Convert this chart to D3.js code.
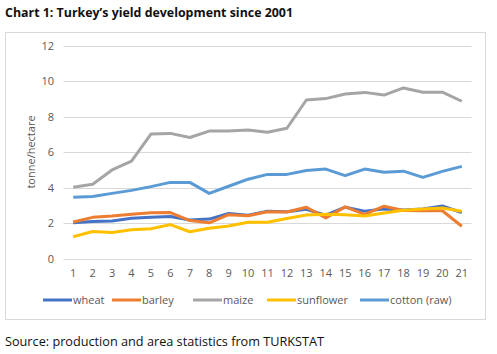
<!DOCTYPE html>
<html>
<head>
<meta charset="utf-8">
<script src="https://cdn.jsdelivr.net/npm/d3@7"></script>
<style>
  body { margin: 0; background: #fff; }
  svg { display: block; }
</style>
</head>
<body>
<div id="chart"></div>
<script>
// data
var years = d3.range(1, 22);
var wheat     = [2.03, 2.1, 2.12, 2.28, 2.33, 2.38, 2.18, 2.23, 2.55, 2.45, 2.68, 2.65, 2.78, 2.45, 2.9, 2.68, 2.8, 2.75, 2.8, 2.97, 2.6];
var barley    = [2.07, 2.33, 2.4, 2.5, 2.59, 2.6, 2.15, 2.02, 2.48, 2.42, 2.65, 2.63, 2.9, 2.3, 2.92, 2.5, 2.96, 2.72, 2.7, 2.7, 1.83];
var maize     = [4.02, 4.19, 5.0, 5.5, 7.02, 7.06, 6.83, 7.19, 7.19, 7.25, 7.12, 7.35, 8.94, 9.02, 9.28, 9.37, 9.22, 9.62, 9.38, 9.38, 8.87];
var sunflower = [1.24, 1.53, 1.48, 1.63, 1.69, 1.92, 1.52, 1.72, 1.84, 2.05, 2.05, 2.27, 2.46, 2.5, 2.47, 2.4, 2.58, 2.73, 2.8, 2.86, 2.67];
var cotton    = [3.46, 3.51, 3.68, 3.85, 4.06, 4.3, 4.3, 3.68, 4.08, 4.48, 4.75, 4.75, 4.97, 5.05, 4.68, 5.05, 4.87, 4.93, 4.58, 4.92, 5.2];
var yTicks = [0, 2, 4, 6, 8, 10, 12];

var series = [
    {name: "wheat", values: wheat, color: "#4472C4"},
    {name: "barley", values: barley, color: "#ED7D31"},
    {name: "maize", values: maize, color: "#A5A5A5"},
    {name: "sunflower", values: sunflower, color: "#FFC000"},
    {name: "cotton (raw)", values: cotton, color: "#5B9BD5"}
];

var width = 497, height = 354;
var font = "'Open Sans', 'DejaVu Sans', sans-serif";

var svg = d3.select("#chart").append("svg")
    .attr("width", width)
    .attr("height", height);

// title
svg.append("text")
    .attr("x", 5)
    .attr("y", 17)
    .style("font-family", font)
    .style("font-weight", "bold")
    .style("font-size", "12.4px")
    .style("fill", "#111")
    .text("Chart 1: Turkey\u2019s yield development since 2001");

// chart frame
svg.append("rect")
    .attr("x", 5.5)
    .attr("y", 32.5)
    .attr("width", 480)
    .attr("height", 287)
    .attr("fill", "#fff")
    .attr("stroke", "#d9d9d9");

var x = d3.scalePoint().domain(years).range([63.5, 471.5]).padding(0.5);
var y = d3.scaleLinear().domain([0, 12]).range([258.7, 45.7]);

// gridlines
svg.append("g")
    .selectAll("line")
    .data(yTicks)
    .enter()
    .append("line")
        .attr("x1", 63.5)
        .attr("x2", 471.5)
        .attr("y1", function(d) { return Math.round(y(d)) + 0.5; })
        .attr("y2", function(d) { return Math.round(y(d)) + 0.5; })
        .style("stroke", "#d9d9d9")
        .style("stroke-width", "1px");

// y tick labels
svg.append("g")
    .selectAll("text")
    .data(yTicks)
    .enter()
    .append("text")
        .attr("x", 54)
        .attr("y", function(d) { return y(d) + 4; })
        .attr("text-anchor", "end")
        .style("font-family", font)
        .style("font-size", "11px")
        .style("fill", "#595959")
        .text(function(d) { return d; });

// x tick labels
svg.append("g")
    .selectAll("text")
    .data(years)
    .enter()
    .append("text")
        .attr("x", function(d) { return x(d); })
        .attr("y", 277)
        .attr("text-anchor", "middle")
        .style("font-family", font)
        .style("font-size", "11px")
        .style("fill", "#595959")
        .text(function(d) { return d; });

// y axis title
svg.append("text")
    .attr("transform", "translate(35,152) rotate(-90)")
    .attr("text-anchor", "middle")
    .style("font-family", font)
    .style("font-size", "11px")
    .style("fill", "#595959")
    .text("tonne/hectare");

var line = d3.line()
    .x(function(d, i) { return x(years[i]); })
    .y(function(d) { return y(d); });

svg.append("g")
    .selectAll("path")
    .data(series)
    .enter()
    .append("path")
        .attr("d", function(d) { return line(d.values); })
        .attr("fill", "none")
        .style("stroke", function(d) { return d.color; })
        .style("stroke-width", "3px")
        .style("stroke-linejoin", "round");

// legend
var legendX = [43, 112, 193, 267, 360];
var legend = svg.append("g")
    .selectAll("g")
    .data(series)
    .enter()
    .append("g")
        .attr("transform", function(d, i) { return "translate(" + legendX[i] + ",300)"; });

legend.append("line")
    .attr("x1", 0)
    .attr("x2", 29)
    .attr("y1", 0)
    .attr("y2", 0)
    .style("stroke", function(d) { return d.color; })
    .style("stroke-width", "3px");

legend.append("text")
    .attr("x", 30)
    .attr("y", 4)
    .style("font-family", font)
    .style("font-size", "11px")
    .style("fill", "#595959")
    .text(function(d) { return d.name; });

// source note
svg.append("text")
    .attr("x", 5)
    .attr("y", 346)
    .style("font-family", font)
    .style("font-size", "12.7px")
    .style("fill", "#111")
    .text("Source: production and area statistics from TURKSTAT");
</script>
</body>
</html>
